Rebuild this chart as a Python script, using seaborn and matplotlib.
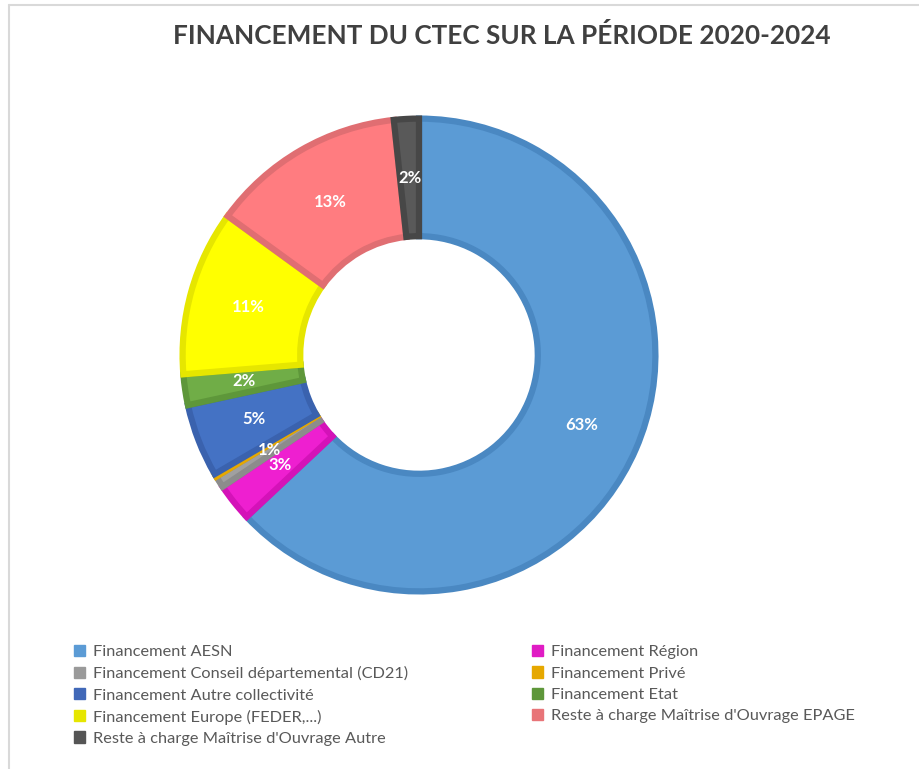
import matplotlib
matplotlib.use("Agg")
import matplotlib.pyplot as plt
import seaborn as sns
from matplotlib.patches import Patch
from matplotlib.lines import Line2D

# ------------------------------
# DONNEES
# ------------------------------
labels = [
    "Financement AESN",
    "Financement Région",
    "Financement Conseil départemental (CD21)",
    "Financement Privé",
    "Financement Autre collectivité",
    "Financement Etat",
    "Financement Europe (FEDER,...)",
    "Reste à charge Maîtrise d'Ouvrage EPAGE",
    "Reste à charge Maîtrise d'Ouvrage Autre",
]
parts = [63.0, 2.6, 0.8, 0.2, 5.0, 2.1, 11.3, 13.3, 1.7]

face_colors = ["#5B9BD5", "#EE1FD0", "#A0A0A0", "#FFC000", "#4472C4",
               "#70AD47", "#FFFF00", "#FF7C80", "#595959"]
edge_colors = ["#4A88C2", "#D412B8", "#8C8C8C", "#E6A800", "#3A62AE",
               "#5E973A", "#E6E600", "#E06E72", "#474747"]
legend_colors = ["#5B9BD5", "#E01CC4", "#9A9A9A", "#E6A800", "#4168B8",
                 "#5E973A", "#E6E600", "#E87478", "#555555"]

title = "FINANCEMENT DU CTEC SUR LA PÉRIODE 2020-2024"

# ------------------------------
# STYLE
# ------------------------------
sns.set_theme(style="white")
plt.rcParams["font.family"] = ["Lato", "DejaVu Sans"]

W, H = 919, 769
fig = plt.figure(figsize=(W / 100, H / 100), dpi=100)
fig.patch.set_facecolor("white")

# cadre gris clair (haut + gauche)
fig.add_artist(Line2D([9 / W, 1], [1 - 5 / H, 1 - 5 / H], color="#D9D9D9", lw=1.5))
fig.add_artist(Line2D([9 / W, 9 / W], [0, 1 - 5 / H], color="#D9D9D9", lw=1.5))

# ------------------------------
# DONUT
# ------------------------------
cx, cy, r = 419, 355, 240
ax = fig.add_axes([(cx - r) / W, 1 - (cy + r) / H, 2 * r / W, 2 * r / H])
wedges, texts, autotexts = ax.pie(
    parts,
    colors=face_colors,
    startangle=90,
    counterclock=False,
    radius=0.985,
    autopct=lambda p: f"{p:.0f}%" if p >= 0.5 else "",
    pctdistance=0.75,
    wedgeprops=dict(width=0.49, linewidth=4.5),
    textprops=dict(color="white", fontsize=12, fontweight="bold"),
)
for w, ec in zip(wedges, edge_colors):
    w.set_edgecolor(ec)
ax.set_xlim(-1, 1)
ax.set_ylim(-1, 1)
ax.set_aspect("equal")
ax.axis("off")

fig.text(502 / W, 1 - 35 / H, title, ha="center", va="center",
         fontsize=18.8, fontweight="bold", color="#404040")

# ------------------------------
# LEGENDE (2 colonnes, ordre ligne par ligne)
# ------------------------------
handles = [Patch(facecolor=c, edgecolor=c) for c in legend_colors]
for idx, x0 in [([0, 2, 4, 6, 8], 74), ([1, 3, 5, 7], 532)]:
    fig.legend(
        [handles[i] for i in idx], [labels[i] for i in idx],
        loc="upper left", bbox_to_anchor=(x0 / W, 1 - 645 / H),
        frameon=False, fontsize=11.8, labelcolor="#595959",
        handlelength=0.68, handleheight=0.68, handletextpad=0.5,
        labelspacing=0.42, borderpad=0, borderaxespad=0,
    )

fig.savefig("out.png", dpi=100)
